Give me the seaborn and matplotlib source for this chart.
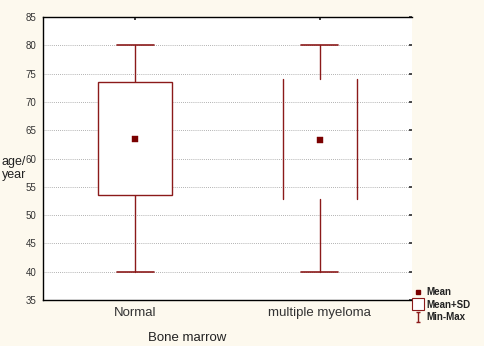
import matplotlib
matplotlib.use("Agg")
import matplotlib.pyplot as plt
import seaborn as sns
import pandas as pd
from matplotlib.patches import Rectangle
from matplotlib.lines import Line2D
from matplotlib.path import Path

categories = ["Normal", "multiple myeloma"]
means = [63.5, 63.3]
sd_low = [53.5, 52.8]
sd_high = [73.5, 74.0]
mins = [40, 40]
maxs = [80, 80]
yticks = [35, 40, 45, 50, 55, 60, 65, 70, 75, 80, 85]

df = pd.DataFrame({"group": categories, "mean": means})

sns.set_theme(style="white")
plt.rcParams["font.family"] = ["Liberation Sans", "DejaVu Sans"]

bg = "#fdf9ee"
red = "#8b1a1a"
fig = plt.figure(figsize=(4.85, 3.46), dpi=100, facecolor=bg)
ax = fig.add_axes([0.0887, 0.1329, 0.7608, 0.818])
ax.set_facecolor("white")

ax.set_ylim(35, 85)
ax.set_xlim(-0.5, 1.5)
ax.set_yticks(yticks)
ax.grid(axis="y", color="#999999", linestyle=(0, (1, 1.5)), linewidth=0.6)
ax.set_axisbelow(True)

bw = 0.2
cw = 0.1
for i in range(len(categories)):
    ax.plot([i, i], [sd_high[i], maxs[i]], color=red, lw=1.0, zorder=2)
    ax.plot([i, i], [mins[i], sd_low[i]], color=red, lw=1.0, zorder=2)
    ax.plot([i - cw, i + cw], [maxs[i], maxs[i]], color=red, lw=1.2, zorder=2)
    ax.plot([i - cw, i + cw], [mins[i], mins[i]], color=red, lw=1.2, zorder=2)
    if i == 0:
        ax.add_patch(Rectangle((i - bw, sd_low[i]), 2 * bw, sd_high[i] - sd_low[i],
                               facecolor="white", edgecolor=red, lw=1.0, zorder=3))
    else:
        ax.plot([i - bw, i - bw], [sd_low[i], sd_high[i]], color=red, lw=1.0, zorder=3)
        ax.plot([i + bw, i + bw], [sd_low[i], sd_high[i]], color=red, lw=1.0, zorder=3)

sns.scatterplot(data=df, x=[0, 1], y="mean", ax=ax, marker="s", s=14,
                color="#7a0000", edgecolor="#7a0000", zorder=5, legend=False)

ax.set_xticks([0, 1])
ax.set_xticklabels(categories, fontsize=9.5, color="#333333")
ax.set_yticklabels([str(t) for t in yticks], fontsize=7, color="#333333")
ax.tick_params(axis="y", left=False, right=True, direction="in", length=2,
               labelleft=True, pad=5, colors="#333333")
ax.tick_params(axis="x", bottom=False, top=True, direction="in", length=2, pad=5)
for lab in ax.get_yticklabels():
    lab.set_color("#333333")
for lab in ax.get_xticklabels():
    lab.set_color("#333333")

for s in ["left", "bottom", "top"]:
    ax.spines[s].set_visible(True)
    ax.spines[s].set_color("black")
    ax.spines[s].set_linewidth(1.0)
ax.spines["right"].set_visible(False)

ax.set_xlabel("")
ax.set_ylabel("")
fig.text(0.004, 0.512, "age/\nyear", fontsize=9, color="#222222", ha="left", va="center",
         linespacing=1.1)
fig.text(0.385, 0.022, "Bone marrow", fontsize=9.5, color="#222222", ha="center", va="center")

minmax_path = Path([(-0.5, 1), (0.5, 1), (0, 1), (0, -1), (-0.5, -1), (0.5, -1)],
                   [Path.MOVETO, Path.LINETO, Path.MOVETO, Path.LINETO, Path.MOVETO, Path.LINETO])
handles = [
    Line2D([], [], marker="s", color="#7a0000", linestyle="none", markersize=3.5),
    Line2D([], [], marker="s", markerfacecolor="white", markeredgecolor=red,
           linestyle="none", markersize=9, markeredgewidth=0.8),
    Line2D([], [], marker=minmax_path, markerfacecolor="none", markeredgecolor=red,
           linestyle="none", markersize=7, markeredgewidth=1.0),
]
leg = fig.legend(handles, ["Mean", "Mean+SD", "Min-Max"], loc="upper left",
                 bbox_to_anchor=(0.852, 0.17), frameon=False, fontsize=7,
                 handlelength=1.0, handletextpad=0.4, labelspacing=0.25,
                 borderaxespad=0, borderpad=0)
for t in leg.get_texts():
    t.set_fontweight("bold")
    t.set_color("#222222")

fig.savefig("out.png", dpi=100, facecolor=bg)
